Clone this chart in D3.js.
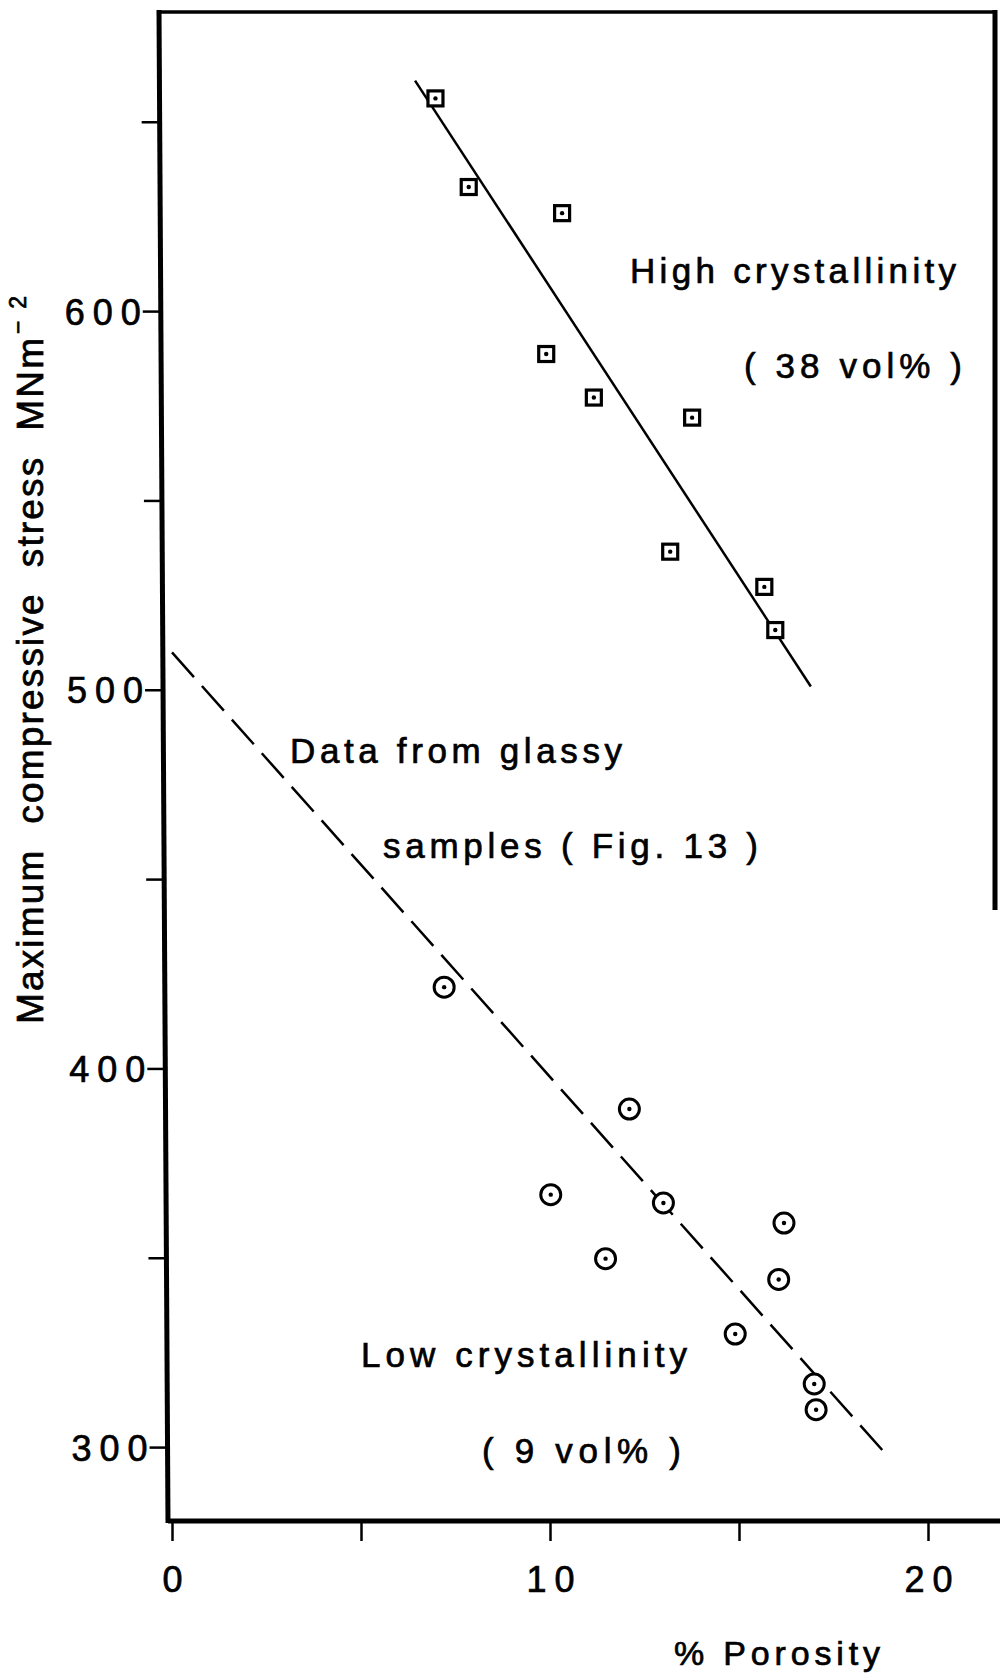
<!DOCTYPE html>
<html>
<head>
<meta charset="utf-8">
<script src="https://cdn.jsdelivr.net/npm/d3@7"></script>
<style>
  body { margin: 0; background: #fff; }
  text { font-family: "Liberation Sans", Arial, Helvetica, sans-serif; fill: #000; stroke: #000; stroke-width: 0.7px; }
</style>
</head>
<body>
<div id="canvas"></div>
<script>
// values
const highPorosity = [6.97, 7.85, 10.32, 9.90, 11.16, 13.76, 13.18, 15.67, 15.96];
const highStress = [656.3, 632.9, 626.0, 588.8, 577.3, 572.0, 536.6, 527.3, 515.9];
const lowPorosity = [7.20, 12.10, 10.02, 13.00, 16.19, 11.47, 16.05, 14.90, 16.99, 17.04];
const lowStress = [421.6, 389.4, 366.8, 364.6, 359.3, 349.9, 344.4, 330.0, 316.8, 310.0];
const highFit = [[6.43, 661], [16.9, 501]];
const glassyFit = [[0, 510], [19.0, 297]];
const xTicks = [0, 5, 10, 15, 20];
const xLabels = [0, 10, 20];
const yTicks = [300, 350, 400, 450, 500, 550, 600, 650];
const yLabels = [300, 400, 500, 600];

const W = 1000, H = 1678;
const frame = { top: 12, bottom: 1521, right: 995 };

const svg = d3.select('#canvas').append("svg")
    .attr("width", W)
    .attr("height", H);

svg.append("rect").attr("width", W).attr("height", H).attr("fill", "#fff");

const x = d3.scaleLinear().domain([0, 20]).range([172, 928]);
const y = d3.scaleLinear().domain([300, 600]).range([1447.6, 311.6]);

// the scanned left axis leans a little
const leftX = py => 159 + (py - frame.top) * 9 / (frame.bottom - frame.top);

// frame
svg.append("line")
    .attr("x1", leftX(frame.top)).attr("y1", frame.top - 2)
    .attr("x2", leftX(frame.bottom)).attr("y2", frame.bottom + 2)
    .attr("stroke", "#000").attr("stroke-width", 5);
svg.append("line")
    .attr("x1", leftX(frame.top)).attr("y1", frame.top)
    .attr("x2", frame.right + 2).attr("y2", frame.top)
    .attr("stroke", "#000").attr("stroke-width", 3.5);
svg.append("line")
    .attr("x1", frame.right).attr("y1", frame.top - 2)
    .attr("x2", frame.right).attr("y2", 910)
    .attr("stroke", "#000").attr("stroke-width", 5);
svg.append("line")
    .attr("x1", leftX(frame.bottom)).attr("y1", frame.bottom)
    .attr("x2", W).attr("y2", frame.bottom)
    .attr("stroke", "#000").attr("stroke-width", 5);

// y axis
const yAxisGroup = svg.append("g")
    .call(d3.axisLeft(y)
        .tickValues(yTicks)
        .tickSize(18)
        .tickPadding(2)
        .tickFormat(d => yLabels.includes(d) ? d : ""));
yAxisGroup.select(".domain").remove();
yAxisGroup.selectAll(".tick")
    .attr("transform", d => `translate(${leftX(y(d))}, ${y(d)})`);
yAxisGroup.selectAll(".tick line").attr("stroke-width", 2.5);
yAxisGroup.selectAll(".tick text")
    .attr("font-size", 36)
    .attr("dy", "0.36em")
    .attr("textLength", d => yLabels.includes(d) ? 76 : null)
    .attr("lengthAdjust", "spacing");

// x axis
const xAxisGroup = svg.append("g")
    .attr("transform", `translate(0, ${frame.bottom})`)
    .call(d3.axisBottom(x)
        .tickValues(xTicks)
        .tickSize(20)
        .tickFormat(d => xLabels.includes(d) ? d : ""));
xAxisGroup.select(".domain").remove();
xAxisGroup.selectAll(".tick line").attr("stroke-width", 2.5);
xAxisGroup.selectAll(".tick text")
    .attr("font-size", 36)
    .attr("y", 71)
    .attr("dy", 0)
    .attr("textLength", d => d === 0 ? null : 48)
    .attr("lengthAdjust", "spacing");

// axis titles
svg.append("text")
    .attr("transform", "translate(43, 1024) rotate(-90)")
    .attr("font-size", 37)
    .attr("textLength", 686)
    .attr("lengthAdjust", "spacing")
    .attr("xml:space", "preserve")
    .text("Maximum  compressive  stress  MNm");
svg.append("text")
    .attr("transform", "translate(26, 334) rotate(-90)")
    .attr("font-size", 23)
    .attr("textLength", 38)
    .attr("lengthAdjust", "spacing")
    .text("\u22122");

svg.append("text")
    .attr("x", 674).attr("y", 1665)
    .attr("font-size", 34)
    .attr("textLength", 206)
    .attr("lengthAdjust", "spacing")
    .text("% Porosity");

// fitted lines
const line = d3.line().x(d => x(d[0])).y(d => y(d[1]));
svg.append("path")
    .attr("d", line(highFit))
    .attr("fill", "none").attr("stroke", "#000").attr("stroke-width", 2.5);
svg.append("path")
    .attr("d", line(glassyFit))
    .attr("fill", "none").attr("stroke", "#000").attr("stroke-width", 2.5)
    .attr("stroke-dasharray", "33 12");

// high crystallinity points: dotted squares
const high = highPorosity.map((p, i) => ({ p, s: highStress[i] }));
const sq = svg.append("g").selectAll("g")
    .data(high).enter().append("g")
    .attr("transform", d => `translate(${x(d.p)}, ${y(d.s)})`);
sq.append("rect")
    .attr("x", -7.5).attr("y", -7.5).attr("width", 15).attr("height", 15)
    .attr("fill", "#fff").attr("stroke", "#000").attr("stroke-width", 3.2);
sq.append("circle").attr("r", 2.2).attr("fill", "#000");

// low crystallinity points: dotted circles
const low = lowPorosity.map((p, i) => ({ p, s: lowStress[i] }));
const ci = svg.append("g").selectAll("g")
    .data(low).enter().append("g")
    .attr("transform", d => `translate(${x(d.p)}, ${y(d.s)})`);
ci.append("circle")
    .attr("r", 10).attr("fill", "#fff").attr("stroke", "#000").attr("stroke-width", 3);
ci.append("circle").attr("r", 2.2).attr("fill", "#000");

// annotations
const notes = [
    { t: "High crystallinity", x: 630, y: 283, w: 326 },
    { t: "( 38 vol% )", x: 744, y: 378, w: 218 },
    { t: "Data from glassy", x: 290, y: 763, w: 332 },
    { t: "samples ( Fig. 13 )", x: 383, y: 858, w: 375 },
    { t: "Low crystallinity", x: 361, y: 1367, w: 326 },
    { t: "( 9 vol% )", x: 482, y: 1463, w: 199 }
];
svg.append("g").selectAll("text")
    .data(notes).enter().append("text")
    .attr("x", d => d.x).attr("y", d => d.y)
    .attr("font-size", 35)
    .attr("textLength", d => d.w)
    .attr("lengthAdjust", "spacing")
    .attr("xml:space", "preserve")
    .text(d => d.t);
</script>
</body>
</html>
